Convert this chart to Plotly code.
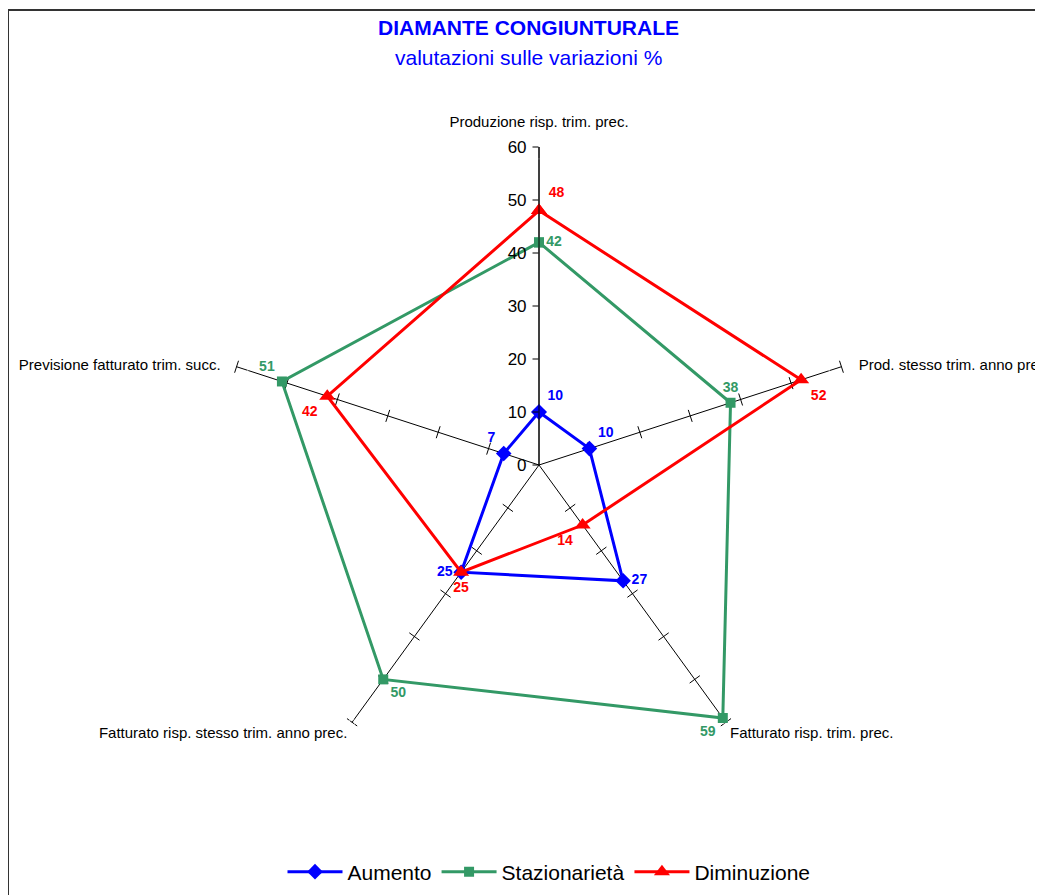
import plotly.graph_objects as go

# Categories (axes of the diamond), clockwise from the top
categories = [
    "Produzione risp. trim. prec.",
    "Prod. stesso trim. anno prec.",
    "Fatturato risp. trim. prec.",
    "Fatturato risp. stesso trim. anno prec.",
    "Previsione fatturato trim. succ.",
]

# Series values (%)
aumento = [10, 10, 27, 25, 7]
stazionarieta = [42, 38, 59, 50, 51]
diminuzione = [48, 52, 14, 25, 42]

# Radial tick values
radial_ticks = [0, 10, 20, 30, 40, 50, 60]

BLUE = "#0000FF"
GREEN = "#339966"
RED = "#FF0000"

W, H = 1043, 895
OFF = 8  # page body margin in the browser
CX, CY, R = 539 - OFF, 465 - OFF, 318  # centre / radius of the radar (figure px)


def closed(values):
    return list(values) + [values[0]]


def py(y_px):
    # figure pixel (from top) -> paper y
    return (H - y_px) / H


fig = go.Figure()

# small tick marks across the non-vertical spokes (Excel style)
tick_r, tick_theta, tick_angle = [], [], []
for i, cat in enumerate(categories[1:], start=1):
    for v in radial_ticks[1:]:
        tick_r.append(v)
        tick_theta.append(cat)
        tick_angle.append(72 * i)
fig.add_trace(
    go.Scatterpolar(
        r=tick_r,
        theta=tick_theta,
        mode="markers",
        marker=dict(
            symbol="line-ew",
            size=9,
            angle=tick_angle,
            line=dict(width=1, color="black"),
        ),
        showlegend=False,
        hoverinfo="skip",
    )
)

# category labels at the end of each spoke
fig.add_trace(
    go.Scatterpolar(
        r=[radial_ticks[-1]] * len(categories),
        theta=categories,
        mode="markers+text",
        text=categories,
        textposition=["top center", "middle right", "bottom right",
                      "bottom left", "middle left"],
        marker=dict(size=[24, 26, 5, 6, 24], color="rgba(0,0,0,0)"),
        textfont=dict(size=15, color="black"),
        showlegend=False,
        hoverinfo="skip",
        cliponaxis=False,
    )
)

series = [
    ("Aumento", aumento, BLUE, "diamond", 12,
     ["top right", "top right", "middle right", "middle left", "top left"]),
    ("Stazionarietà", stazionarieta, GREEN, "square", 10,
     ["middle right", "top center", "bottom left", "bottom right", "top left"]),
    ("Diminuzione", diminuzione, RED, "triangle-up", 14,
     ["top right", "bottom right", "bottom left", "bottom center", "bottom left"]),
]

for name, vals, color, symbol, msize, tpos in series:
    fig.add_trace(
        go.Scatterpolar(
            r=closed(vals),
            theta=closed(categories),
            name=name,
            mode="lines+markers+text",
            line=dict(color=color, width=3),
            marker=dict(symbol=symbol, size=msize, color=color),
            text=[str(v) for v in vals] + [""],
            textposition=tpos + ["top center"],
            textfont=dict(family="Liberation Sans, Arial", size=14, color=color,
                          weight="bold"),
            cliponaxis=False,
        )
    )

fig.update_layout(
    width=W,
    height=H,
    margin=dict(l=0, r=0, t=0, b=0),
    paper_bgcolor="white",
    font=dict(family="Liberation Sans, Arial", color="black"),
    polar=dict(
        domain=dict(
            x=[(CX - R) / W, (CX + R) / W],
            y=[py(CY + R), py(CY - R)],
        ),
        bgcolor="rgba(0,0,0,0)",
        radialaxis=dict(
            range=[0, 60],
            angle=90,
            tickangle=90,
            side="counterclockwise",
            tickvals=radial_ticks,
            ticks="outside",
            ticklen=6,
            tickcolor="black",
            showline=True,
            linecolor="black",
            linewidth=1,
            showgrid=False,
            tickfont=dict(size=17, color="black"),
        ),
        angularaxis=dict(
            direction="clockwise",
            rotation=90,
            type="category",
            categoryarray=categories,
            showline=False,
            showgrid=True,
            gridcolor="black",
            gridwidth=1,
            ticks="",
            showticklabels=False,
        ),
    ),
    legend=dict(
        orientation="h",
        x=(549 - OFF) / W,
        xanchor="center",
        y=py(872 - OFF),
        yanchor="middle",
        font=dict(size=21, color="black"),
        itemwidth=55,
        tracegroupgap=0,
    ),
    annotations=[
        dict(
            text="<b>DIAMANTE CONGIUNTURALE</b>",
            x=(528 - OFF) / W, y=py(28 - OFF), xref="paper", yref="paper",
            showarrow=False, xanchor="center", yanchor="middle",
            font=dict(size=21, color=BLUE),
        ),
        dict(
            text="valutazioni sulle variazioni %",
            x=(528 - OFF) / W, y=py(57 - OFF), xref="paper", yref="paper",
            showarrow=False, xanchor="center", yanchor="middle",
            font=dict(size=21, color=BLUE),
        ),
    ],
    shapes=[
        dict(
            type="rect", xref="paper", yref="paper",
            x0=0, x1=1.02, y0=-0.02, y1=py(10 - OFF),
            line=dict(color="#333333", width=2),
            fillcolor="rgba(0,0,0,0)",
        )
    ],
)

fig.write_html("out.html")
